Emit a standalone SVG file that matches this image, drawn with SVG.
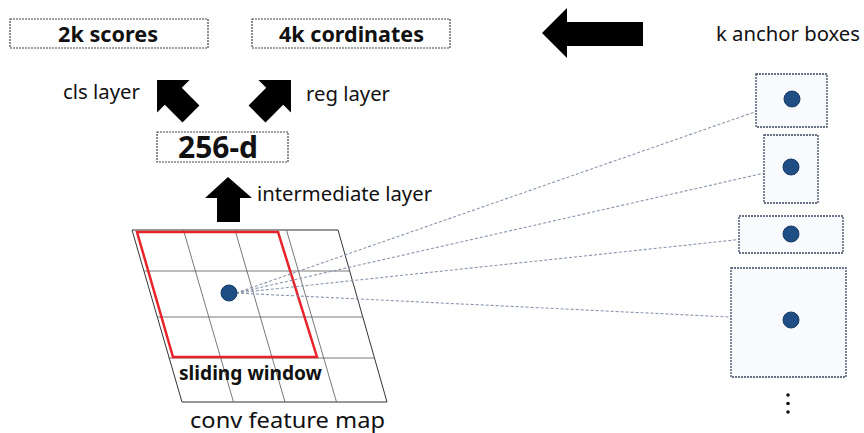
<svg xmlns="http://www.w3.org/2000/svg" width="864" height="433" viewBox="0 0 864 433">
<style>
.box{fill:#fff;stroke:#444;stroke-width:1.2;stroke-dasharray:2 1}
.anc{fill:#f8fafd;stroke:#3a4560;stroke-width:1.3;stroke-dasharray:2 1}
.dot{fill:#1f4e85;stroke:#173a66;stroke-width:1}
.t{font-family:"Noto Sans","Open Sans",sans-serif;fill:#111}
.b{font-weight:bold}
.arr{fill:#000}
.grid{stroke:#555;stroke-width:0.8;fill:none}
.ray{stroke:#8a96ad;stroke-width:1.1;stroke-dasharray:3 2;fill:none}
</style>
<defs>
<polygon id="uparr" points="0,-24 23,-1 12,-1 12,24 -12,24 -12,-1 -23,-1"/>
</defs>
<g id="scores"><rect class="box" x="10" y="19" width="198" height="29"/><text class="t b" x="108" y="42" font-size="21" text-anchor="middle" textLength="100" lengthAdjust="spacingAndGlyphs">2k scores</text></g>
<g id="coords"><rect class="box" x="252" y="19" width="198" height="29"/><text class="t b" x="351.5" y="42" font-size="21" text-anchor="middle" textLength="145" lengthAdjust="spacingAndGlyphs">4k cordinates</text></g>
<g id="d256"><rect class="box" x="157" y="132" width="131" height="30"/><text class="t b" x="218" y="158" font-size="30" text-anchor="middle" textLength="80" lengthAdjust="spacingAndGlyphs">256-d</text></g>
<g id="labels">
<text class="t" x="63" y="99" font-size="19" textLength="77" lengthAdjust="spacingAndGlyphs">cls layer</text>
<text class="t" x="306" y="101" font-size="19" textLength="84" lengthAdjust="spacingAndGlyphs">reg layer</text>
<text class="t" x="257" y="201" font-size="19" textLength="175" lengthAdjust="spacingAndGlyphs">intermediate layer</text>
<text class="t" x="716" y="41" font-size="19" textLength="144" lengthAdjust="spacingAndGlyphs">k anchor boxes</text>
</g>
<g id="arrows">
<polygon class="arr" points="542,33 567,8 567,22 643,22 643,46 567,46 567,58"/>
<polygon class="arr" points="228,177 252,198 240,198 240,222 217,222 217,198 205,198"/>
<use href="#uparr" class="arr" transform="translate(174,97) rotate(-45)"/>
<use href="#uparr" class="arr" transform="translate(274,97) rotate(45)"/>
</g>
<g id="featuremap">
<polygon points="132,230 338,230 387,402 182,402" fill="#fff" stroke="#333" stroke-width="1"/>
<path class="grid" d="M143.7,271 H349.7 M156.8,317 H362.8 M168.5,358 H374.5 M183.5,230 L233.5,402 M235,230 L285,402 M286.5,230 L336.5,402"/>
<polygon points="137,232 278,232 317,357 173,357" fill="none" stroke="#e8232a" stroke-width="2.5"/>
<text class="t b" x="179" y="380" font-size="19" textLength="143" lengthAdjust="spacingAndGlyphs">sliding window</text>
<text class="t" x="190" y="428" font-size="22" textLength="195" lengthAdjust="spacingAndGlyphs">conv feature map</text>
</g>
<g id="connectors">
<line class="ray" x1="236" y1="293" x2="792" y2="99"/>
<line class="ray" x1="236" y1="293" x2="791" y2="167"/>
<line class="ray" x1="236" y1="293" x2="791" y2="234"/>
<line class="ray" x1="236" y1="293" x2="791" y2="320"/>
</g>
<g id="center"><circle class="dot" cx="229" cy="293" r="8"/></g>
<g id="anchor1"><rect class="anc" x="756" y="74" width="71" height="53"/><circle class="dot" cx="792" cy="99" r="8"/></g>
<g id="anchor2"><rect class="anc" x="764" y="135" width="54" height="68"/><circle class="dot" cx="791" cy="167" r="8"/></g>
<g id="anchor3"><rect class="anc" x="739" y="216" width="104" height="37"/><circle class="dot" cx="791" cy="234" r="8"/></g>
<g id="anchor4"><rect class="anc" x="731" y="268" width="115" height="109"/><circle class="dot" cx="791" cy="320" r="8"/></g>
<g id="more"><circle cx="788" cy="395" r="1.8" fill="#111"/><circle cx="788" cy="403.5" r="1.8" fill="#111"/><circle cx="788" cy="412" r="1.8" fill="#111"/></g>
</svg>
